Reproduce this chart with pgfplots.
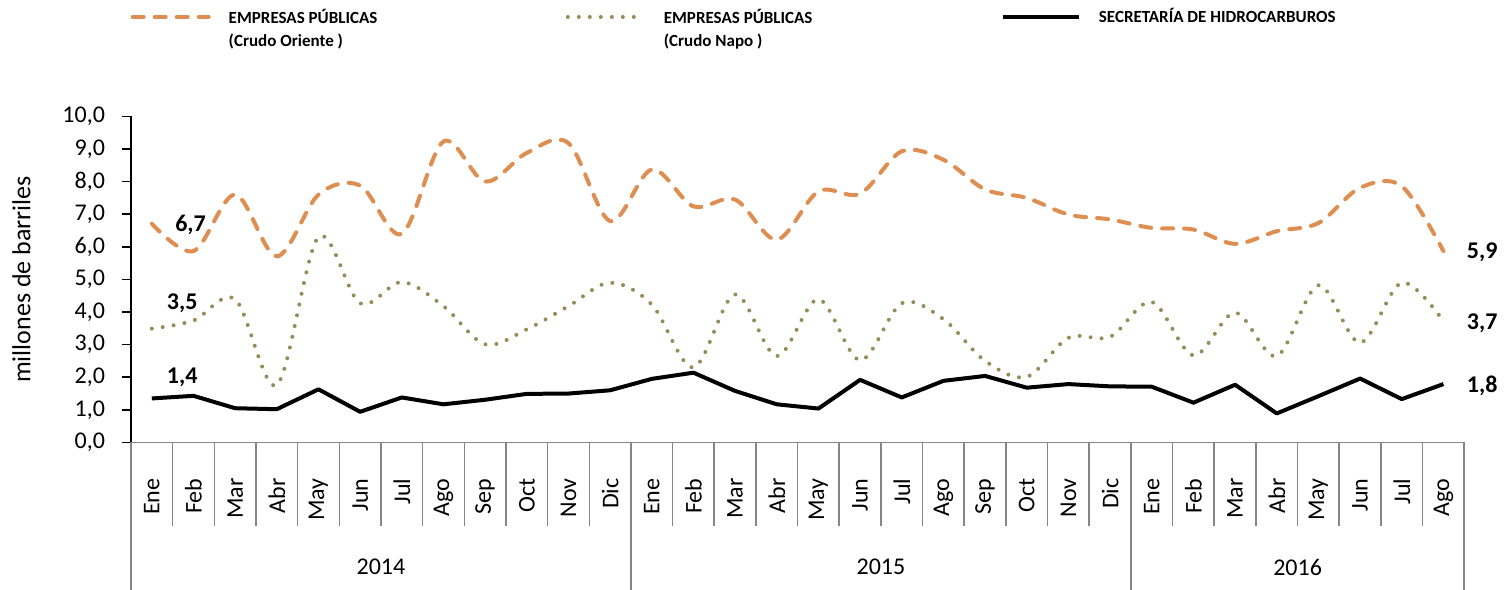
\documentclass[border=0pt]{standalone}
\usepackage{fontspec}
\setmainfont{Carlito}
\usepackage{pgfplots}
\pgfplotsset{compat=1.18}
\definecolor{ori}{RGB}{221,142,80}
\definecolor{napo}{RGB}{153,139,87}
\definecolor{axgray}{RGB}{134,134,134}
\newcommand{\tk}{\fontsize{12}{14}\selectfont}

\pgfplotstableread{
x oriente napo sec
0 6.71 3.49 1.35
1 5.87 3.74 1.43
2 7.60 4.39 1.05
3 5.71 1.76 1.02
4 7.60 6.30 1.63
5 7.88 4.27 0.94
6 6.40 4.92 1.38
7 9.23 4.18 1.17
8 8.00 3.01 1.31
9 8.88 3.47 1.49
10 9.18 4.18 1.50
11 6.79 4.90 1.60
12 8.37 4.23 1.95
13 7.24 2.30 2.14
14 7.45 4.54 1.58
15 6.22 2.65 1.17
16 7.70 4.39 1.04
17 7.63 2.52 1.92
18 8.93 4.27 1.38
19 8.67 3.78 1.89
20 7.76 2.50 2.04
21 7.50 2.01 1.68
22 6.99 3.21 1.79
23 6.84 3.24 1.72
24 6.58 4.31 1.71
25 6.53 2.67 1.22
26 6.09 3.98 1.77
27 6.48 2.65 0.89
28 6.73 4.82 1.42
29 7.81 3.06 1.96
30 7.86 4.90 1.33
31 5.87 3.72 1.79
}\datatable

\begin{document}
\begin{tikzpicture}
\begin{axis}[
  scale only axis,
  width=666.5pt, height=163pt,
  xmin=-0.5, xmax=31.5, ymin=0, ymax=10,
  axis lines*=left,
  x axis line style={axgray, line width=0.8pt},
  y axis line style={black, line width=0.8pt},
  ytick={0,...,10},
  yticklabels={{0,0},{1,0},{2,0},{3,0},{4,0},{5,0},{6,0},{7,0},{8,0},{9,0},{10,0}},
  tick align=outside,
  major tick length=4.5pt,
  y tick style={black, line width=0.8pt},
  x tick style={draw=none},
  yticklabel style={font=\tk, xshift=-5pt},
  xtick={0,...,31},
  xticklabels={Ene,Feb,Mar,Abr,May,Jun,Jul,Ago,Sep,Oct,Nov,Dic,
               Ene,Feb,Mar,Abr,May,Jun,Jul,Ago,Sep,Oct,Nov,Dic,
               Ene,Feb,Mar,Abr,May,Jun,Jul,Ago},
  xticklabel style={rotate=90, anchor=east, font=\fontsize{12}{14}\selectfont},
  xticklabel shift=10pt,
  ylabel={millones de barriles},
  ylabel style={font=\fontsize{13}{15}\selectfont},
  ylabel shift=9pt,
  clip=false,
  legend columns=3,
  legend cell align=left,
  legend style={draw=none, fill=none, at={(axis description cs:-0.005,1.36)}, anchor=north west,
    font=\fontsize{8.5}{11.5}\selectfont\bfseries,
    /tikz/every even column/.append style={column sep=6pt},
    /tikz/every odd column/.append style={column sep=7pt}},
  legend image code/.code={\draw[#1] (0pt,0pt) -- (38pt,0pt);},
]
\addplot[ori, line width=2pt, line cap=round, dash pattern=on 5.5pt off 5.5pt, smooth, tension=0.55] table[x=x,y=oriente]{\datatable};
\addlegendentry{\begin{tabular}[t]{@{}p{160.5pt}@{}}EMPRESAS PÚBLICAS\\(Crudo Oriente )\end{tabular}}
\addplot[napo, line width=2pt, line cap=round, dash pattern=on 0pt off 5.5pt, smooth, tension=0.55] table[x=x,y=napo]{\datatable};
\addlegendentry{\begin{tabular}[t]{@{}p{160.5pt}@{}}EMPRESAS PÚBLICAS\\(Crudo Napo )\end{tabular}}
\addplot[black, line width=2pt, line join=round] table[x=x,y=sec]{\datatable};
\addlegendentry{SECRETARÍA DE HIDROCARBUROS}

\pgfplotsinvokeforeach{-0.5,0.5,...,31.5}{\draw[axgray, line width=0.8pt] (axis cs:#1,0) -- (axis cs:#1,-2.56);}
\pgfplotsinvokeforeach{-0.5,11.5,23.5,31.5}{\draw[axgray, line width=0.8pt] (axis cs:#1,0) -- (axis cs:#1,-4.52);}
\node[font=\fontsize{12}{14}\selectfont] at (axis cs:5.5,-3.82) {2014};
\node[font=\fontsize{12}{14}\selectfont] at (axis cs:17.5,-3.82) {2015};
\node[font=\fontsize{12}{14}\selectfont] at (axis cs:27.5,-3.82) {2016};

\node[font=\fontsize{12}{14}\selectfont\bfseries] at (axis cs:0.93,6.66) {6,7};
\node[font=\fontsize{12}{14}\selectfont\bfseries] at (axis cs:0.73,4.27) {3,5};
\node[font=\fontsize{12}{14}\selectfont\bfseries] at (axis cs:0.73,1.99) {1,4};
\node[font=\fontsize{12}{14}\selectfont\bfseries] at (axis cs:31.93,5.82) {5,9};
\node[font=\fontsize{12}{14}\selectfont\bfseries] at (axis cs:31.93,3.67) {3,7};
\node[font=\fontsize{12}{14}\selectfont\bfseries] at (axis cs:31.93,1.75) {1,8};

\coordinate (BB1) at (axis cs:-3.644,-4.52);
\coordinate (BB2) at (axis cs:32.55,13.57);
\end{axis}
\pgfresetboundingbox
\useasboundingbox (BB1) rectangle (BB2);
\end{tikzpicture}
\end{document}
